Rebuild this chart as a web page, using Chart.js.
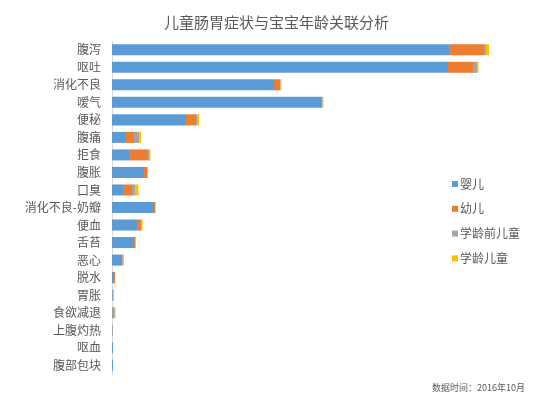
<!DOCTYPE html>
<html>
<head>
<meta charset="utf-8">
<title>儿童肠胃症状与宝宝年龄关联分析</title>
<script src="https://cdn.jsdelivr.net/npm/chart.js@4/dist/chart.umd.min.js"></script>
<style>
  body { margin: 0; background: #fff; }
  #wrap { width: 553px; height: 396px; }
</style>
</head>
<body>
<div id="wrap"><canvas id="chart" width="553" height="396"></canvas></div>
<script>
// symptoms, top to bottom
const symptoms = ['腹泻', '呕吐', '消化不良', '嗳气', '便秘', '腹痛', '拒食', '腹胀', '口臭',
  '消化不良-奶瓣', '便血', '舌苔', '恶心', '脱水', '胃胀', '食欲减退', '上腹灼热', '呕血', '腹部包块'];

const seriesNames = ['婴儿', '幼儿', '学龄前儿童', '学龄儿童'];
const seriesColors = ['#5b9bd5', '#ed7d31', '#a5a5a5', '#ffc000'];

// values
const infant    = [337, 336, 162, 209, 74, 13, 17, 32, 11, 42, 25, 22, 10, 2, 0.5, 0.5, 0, 1, 1];
const toddler   = [35, 25, 6, 1, 10, 9, 19, 3, 9, 1, 4, 1, 0.5, 1, 0, 1.5, 0, 0, 0];
const preschool = [2, 4, 0.5, 0.5, 1.5, 5.5, 1.5, 0, 3.5, 0.5, 0.5, 0, 1, 0, 1, 0.5, 1, 0, 0];
const school    = [3, 1.5, 1, 1, 1.5, 1.5, 1, 1, 3, 0, 1, 1, 0.5, 0, 0.5, 1, 0, 0, 0];

const xMax = 441;
const sourceNote = '数据时间：2016年10月';

const FONT = '"Noto Sans CJK SC", "Microsoft YaHei", sans-serif';
const TEXT = '#595959';

// legend on the right + source note, drawn on the canvas
const sideLegend = {
  id: 'sideLegend',
  afterDraw(chart) {
    const ctx = chart.ctx;
    ctx.save();
    ctx.font = '12px ' + FONT;
    ctx.textBaseline = 'middle';
    ctx.textAlign = 'left';
    chart.data.datasets.forEach((ds, i) => {
      const y = 184 + i * 24.8;
      ctx.fillStyle = ds.backgroundColor;
      ctx.fillRect(452, y - 3, 6, 6);
      ctx.fillStyle = TEXT;
      ctx.fillText(ds.label, 460, y);
    });
    ctx.font = '9px ' + FONT;
    ctx.textAlign = 'right';
    ctx.fillText(sourceNote, 525, 388);
    ctx.restore();
  }
};

const ctx = document.getElementById('chart').getContext('2d');
const values = [infant, toddler, preschool, school];

new Chart(ctx, {
  type: 'bar',
  data: {
    labels: symptoms,
    datasets: seriesNames.map((name, i) => ({
      label: name,
      data: values[i],
      backgroundColor: seriesColors[i],
      barPercentage: 0.63,
      categoryPercentage: 1
    }))
  },
  options: {
    indexAxis: 'y',
    responsive: false,
    animation: false,
    layout: { padding: { left: 0, right: 0, bottom: 22, top: 0 } },
    plugins: {
      legend: { display: false },
      tooltip: { enabled: false },
      title: {
        display: true,
        text: '儿童肠胃症状与宝宝年龄关联分析',
        color: TEXT,
        font: { family: FONT, size: 15, weight: 'normal' },
        padding: { top: 13, bottom: 10 }
      }
    },
    scales: {
      x: {
        stacked: true,
        display: false,
        min: 0,
        max: xMax
      },
      y: {
        stacked: true,
        grid: { display: false, drawTicks: false },
        border: { display: true, color: '#d9d9d9', width: 1 },
        ticks: {
          color: TEXT,
          padding: 11,
          font: { family: FONT, size: 12 }
        },
        afterFit(scale) { scale.width = 112; }
      }
    }
  },
  plugins: [sideLegend]
});
</script>
</body>
</html>
